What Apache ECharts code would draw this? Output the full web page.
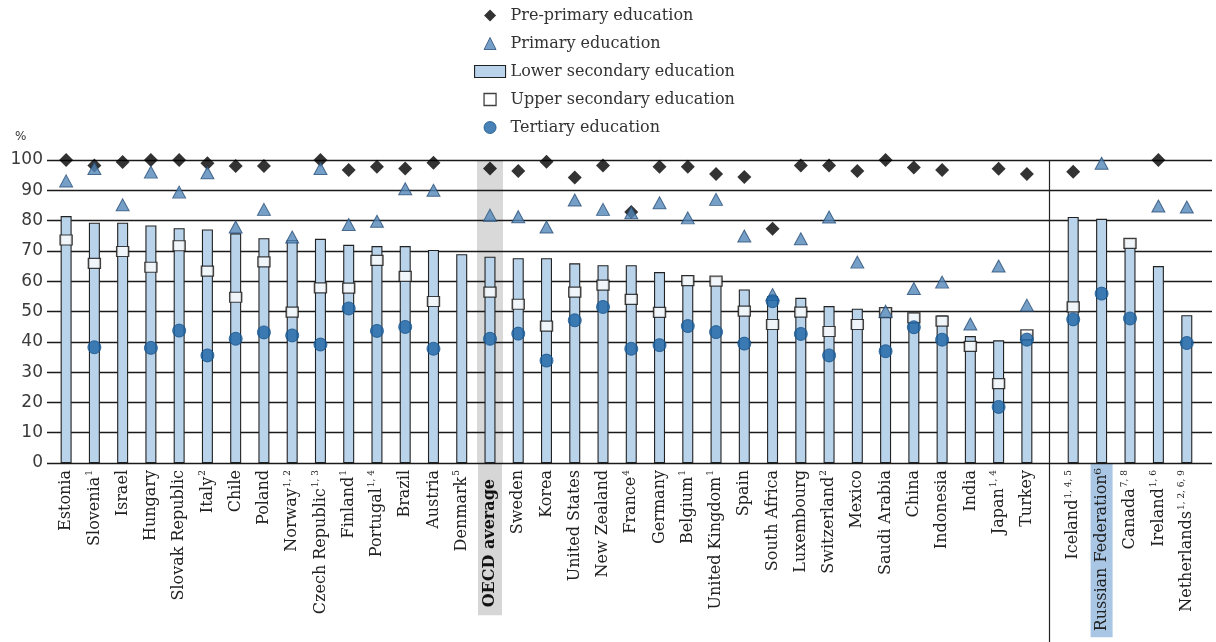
<!DOCTYPE html>
<html><head><meta charset="utf-8">
<script src="https://cdn.jsdelivr.net/npm/echarts@6/dist/echarts.min.js"></script>
<style>html,body{margin:0;padding:0;background:#fff}#c{width:1216px;height:642px}</style>
</head><body><div id="c"></div>
<script>
// ---- Data ----
const categories1 = ['Estonia','Slovenia','Israel','Hungary','Slovak Republic','Italy','Chile','Poland','Norway','Czech Republic','Finland','Portugal','Brazil','Austria','Denmark','OECD average','Sweden','Korea','United States','New Zealand','France','Germany','Belgium','United Kingdom','Spain','South Africa','Luxembourg','Switzerland','Mexico','Saudi Arabia','China','Indonesia','India','Japan','Turkey'];
const notes1 = ['','1','','','','2','','','1, 2','1, 3','1','1, 4','','','5','','','','','','4','','1','1','','','','2','','','','','','1, 4',''];
const preprimary1 = [100,98.2,99.3,100,100,98.9,98,98,null,100,96.7,97.8,97.2,99.1,null,97.2,96.4,99.4,94.2,98.2,82.8,97.8,97.8,95.4,94.4,77.3,98.2,98.2,96.4,100,97.5,96.7,null,97.1,95.4];
const primary1 = [93.1,97.2,85.2,96,89.4,95.8,77.9,83.7,74.6,97.2,78.7,79.8,90.5,90,null,81.8,81.3,77.9,86.8,83.7,82.6,85.9,80.9,87,74.9,55.6,74,81.2,66.3,50.1,57.6,59.7,45.9,65,52.1];
const lowerSec1 = [81.5,79.3,79.3,78.4,77.5,77.1,75.8,74.2,73.6,74,72,71.6,71.6,70.3,68.9,68.1,67.6,67.6,65.9,65.3,65.3,63,62,61.5,57.3,55,54.5,51.8,50.9,51.2,49.6,48.7,41.9,40.5,43];
const upperSec1 = [73.6,65.9,69.8,64.6,71.7,63.3,54.7,66.4,49.8,57.8,57.7,66.9,61.6,53.3,null,56.4,52.4,45.2,56.4,58.7,54,49.7,60.2,60,50.1,45.7,49.8,43.4,45.7,49.6,47.9,46.8,38.5,26.2,42.3];
const tertiary1 = [null,38.2,null,38,43.7,35.5,41,43.1,42.1,39.1,51,43.6,44.9,37.7,null,41,42.7,33.8,47.1,51.5,37.7,38.9,45.2,43.2,39.4,53.4,42.6,35.5,null,36.9,44.8,40.7,null,18.5,40.7];

const categories2 = ['Iceland','Russian Federation','Canada','Ireland','Netherlands'];
const notes2 = ['1, 4, 5','6','7, 8','1, 6','1, 2, 6, 9'];
const preprimary2 = [96.1,null,null,100,null];
const primary2 = [null,98.9,null,84.8,84.5];
const lowerSec2 = [81.2,80.6,74,65,48.8];
const upperSec2 = [51.5,null,72.5,null,null];
const tertiary2 = [47.4,55.9,47.7,null,39.6];

const yTicks = [0,10,20,30,40,50,60,70,80,90,100];
const highlightCategory = 'OECD average';
const shadedCategory = 'Russian Federation';

// ---- Styles ----
const SERIF = 'DejaVu Serif';
const names = ['Pre-primary education','Primary education','Lower secondary education','Upper secondary education','Tertiary education'];
const styles = {
  pre: {color:'#000000'},
  pri: {color:'#5387b8', borderColor:'#294f78', borderWidth:1},
  low: {color:'#b9d3eb', borderColor:'#222222', borderWidth:1.1},
  up: {color:'#ffffff', borderColor:'#111111', borderWidth:1.3},
  ter: {color:'#1c63a5', borderColor:'#17548c', borderWidth:1}
};

const supMap = {'1':'¹','2':'²','3':'³','4':'⁴','5':'⁵','6':'⁶','7':'⁷','8':'⁸','9':'⁹'};
function makeFormatter(cats, notes) {
  return function(value) {
    const i = cats.indexOf(value);
    const note = i >= 0 ? notes[i] : '';
    if (value === highlightCategory) return '{o|' + value + '}';
    if (value === shadedCategory) return '{r|' + value + note.split('').map(c => supMap[c] || c).join('') + '}';
    return note ? '{n|' + value + '}{s|' + note + '}' : '{e|' + value + '}';
  };
}
const rich = {
  n: {fontFamily:SERIF, fontSize:16, color:'#222', lineHeight:19},
  e: {fontFamily:SERIF, fontSize:16, color:'#222', lineHeight:19, padding:[0,7,0,0]},
  s: {fontFamily:SERIF, fontSize:9, color:'#222', verticalAlign:'top', lineHeight:11, padding:[0,7,0,1]},
  o: {fontFamily:SERIF, fontSize:16, fontWeight:'bold', color:'#111', lineHeight:19, backgroundColor:'#d6d6d6', padding:[4,16,4,8]},
  r: {fontFamily:SERIF, fontSize:16, color:'#222', lineHeight:19, backgroundColor:'#a9c7e5', padding:[3,5,3,6]}
};
function catAxis(gridIndex, cats, notes, show) {
  return {
    type:'category', gridIndex, data:cats, boundaryGap:true,
    axisLine:{show:false}, axisTick:{show:false}, splitLine:{show:false},
    axisLabel: show ? {interval:0, rotate:90, margin:0, formatter:makeFormatter(cats, notes), rich} : {show:false}
  };
}
function hiddenY(gridIndex) {
  return {type:'value', gridIndex, min:0, max:100, interval:10, show:false, splitLine:{show:false}};
}
function groupSeries(xi, yi, pre, pri, low, up, ter) {
  return [
    {name:names[2], type:'bar', xAxisIndex:xi, yAxisIndex:yi, data:low, barWidth:11, itemStyle:styles.low, z:2},
    {name:names[3], type:'scatter', xAxisIndex:xi, yAxisIndex:yi, data:up, symbol:'rect', symbolSize:[12,10], itemStyle:styles.up, z:3},
    {name:names[0], type:'scatter', xAxisIndex:xi, yAxisIndex:yi, data:pre, symbol:'diamond', symbolSize:[14,14], itemStyle:styles.pre, z:4},
    {name:names[1], type:'scatter', xAxisIndex:xi, yAxisIndex:yi, data:pri, symbol:'triangle', symbolSize:[13,12], itemStyle:styles.pri, z:5},
    {name:names[4], type:'scatter', xAxisIndex:xi, yAxisIndex:yi, data:ter, symbol:'circle', symbolSize:13, itemStyle:styles.ter, z:6}
  ];
}

const chart = echarts.init(document.getElementById('c'), null, {renderer:'canvas'});
const option = {
  animation:false,
  backgroundColor:'#ffffff',
  legend: {
    orient:'vertical', left:469, top:1, itemWidth:31, itemHeight:12, itemGap:9, selectedMode:false,
    symbolKeepAspect:true,
    textStyle:{fontFamily:SERIF, fontSize:16, color:'#333', lineHeight:19},
    data:[
      {name:names[0], icon:'path://M5,0 L10,5 L5,10 L0,5 Z', itemStyle:styles.pre},
      {name:names[1], icon:'path://M5,0 L10,10 L0,10 Z', itemStyle:styles.pri},
      {name:names[2], icon:'rect', itemStyle:styles.low},
      {name:names[3], icon:'path://M0,0 L10,0 L10,10 L0,10 Z', itemStyle:styles.up},
      {name:names[4], icon:'path://M0,5 A5,5 0 1,1 10,5 A5,5 0 1,1 0,5 Z', itemStyle:styles.ter}
    ]
  },
  grid:[
    {left:47, right:4, top:160, bottom:179},
    {left:52, width:989, top:160, bottom:179},
    {left:1059, width:142, top:160, bottom:179}
  ],
  xAxis:[
    {type:'value', gridIndex:0, min:0, max:1, show:false},
    catAxis(1, categories1, notes1, true),
    catAxis(1, categories1, notes1, false),
    catAxis(2, categories2, notes2, true)
  ],
  yAxis:[
    {type:'value', gridIndex:0, min:yTicks[0], max:yTicks[yTicks.length-1], interval:10, z:1,
     axisLine:{show:false}, axisTick:{show:false},
     axisLabel:{fontFamily:'DejaVu Sans', fontSize:17, color:'#3a3a3a', margin:4},
     splitLine:{show:true, lineStyle:{color:'#1a1a1a', width:1.3}}},
    hiddenY(1), hiddenY(2)
  ],
  graphic:[
    {type:'text', left:15, top:131, style:{text:'%', fontFamily:'DejaVu Sans', fontSize:12, fill:'#333'}},
    {type:'line', shape:{x1:1049.5, y1:160, x2:1049.5, y2:642}, style:{stroke:'#222', lineWidth:1.2}, z:10}
  ],
  series:[
    {name:'highlight', type:'bar', xAxisIndex:2, yAxisIndex:1, barWidth:26, z:0, silent:true,
     data:categories1.map(c => c === highlightCategory ? 100 : null), itemStyle:{color:'#d9d9d9'}},
    ...groupSeries(1, 1, preprimary1, primary1, lowerSec1, upperSec1, tertiary1),
    ...groupSeries(3, 2, preprimary2, primary2, lowerSec2, upperSec2, tertiary2)
  ]
};
chart.setOption(option);
</script>
</body></html>
